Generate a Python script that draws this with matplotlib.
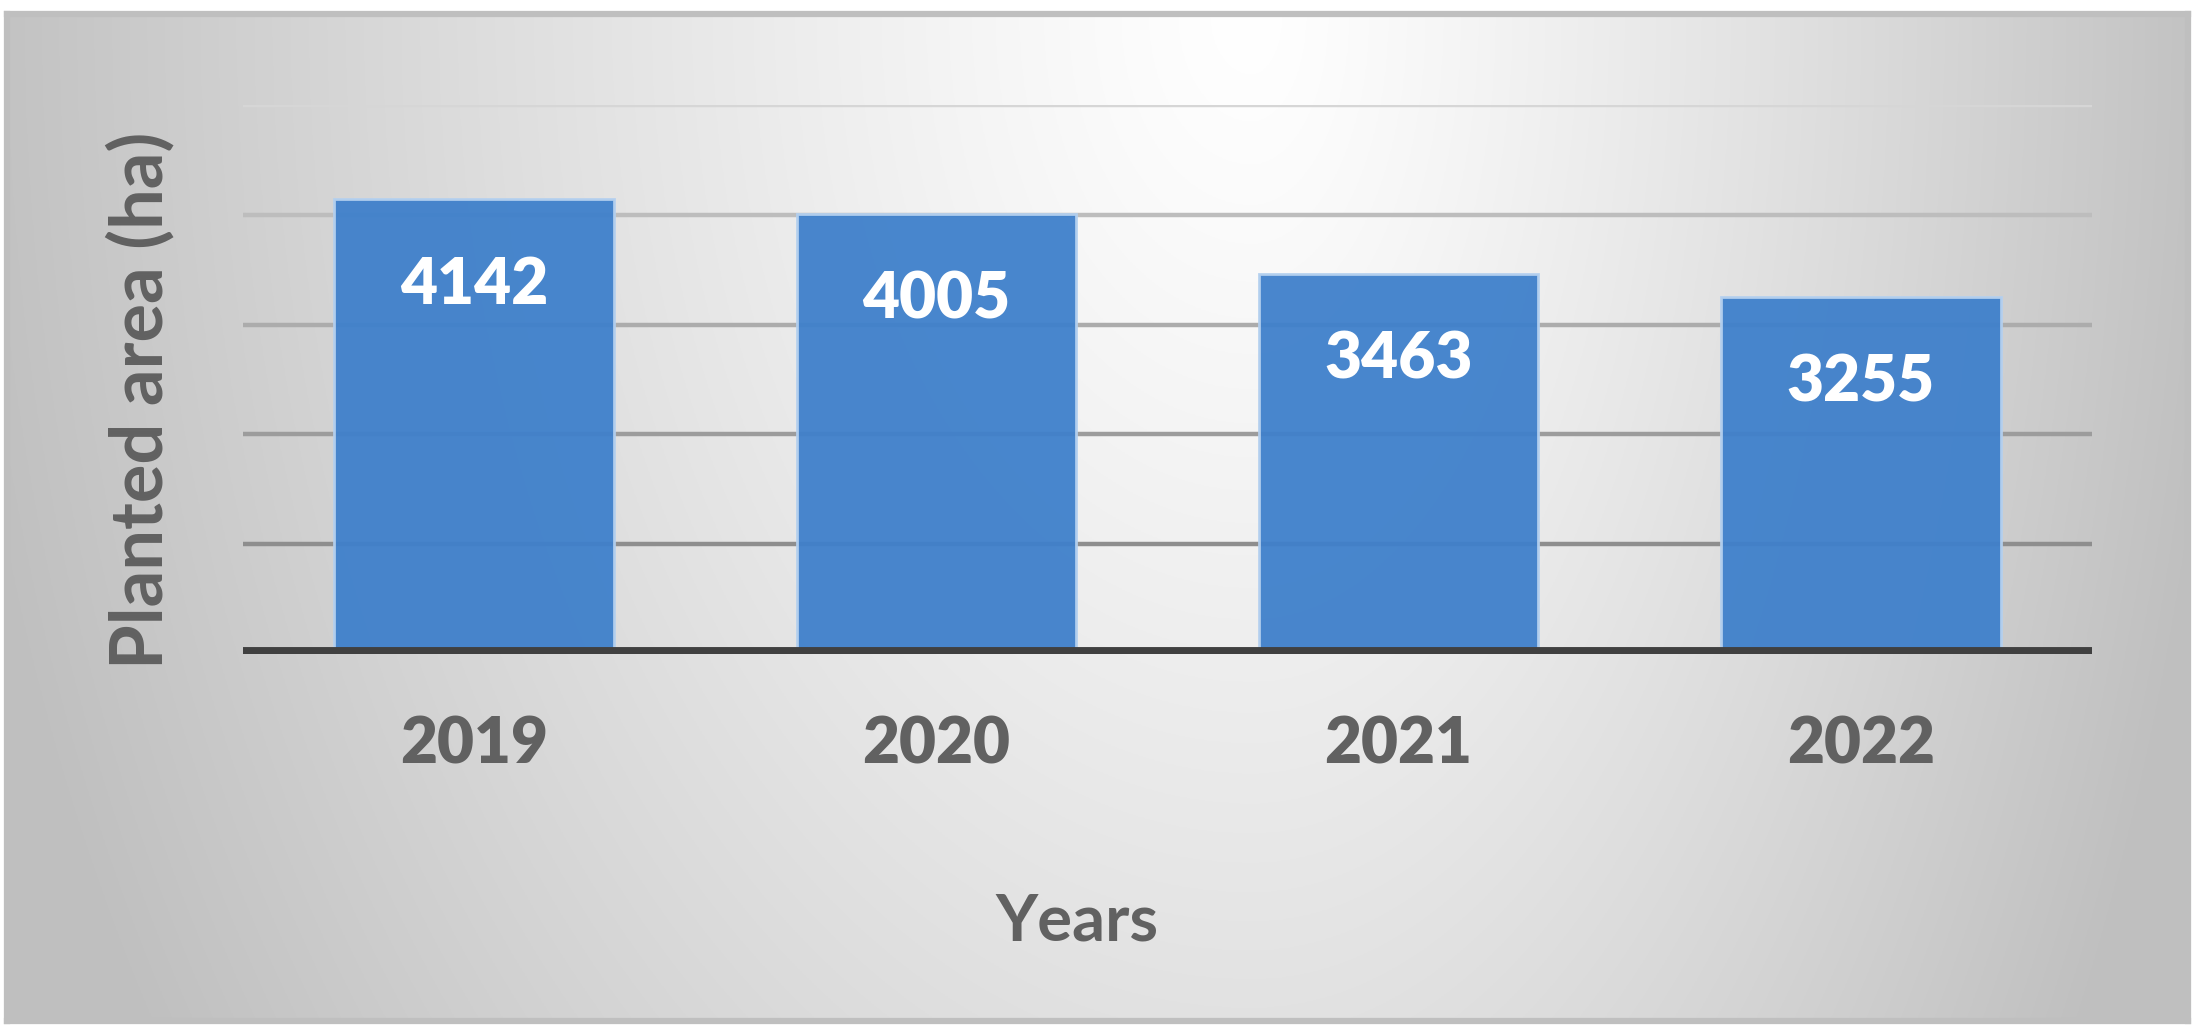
import numpy as np
import matplotlib.pyplot as plt

years = ['2019', '2020', '2021', '2022']
area = [4142, 4005, 3463, 3255]
grid_vals = [1000, 2000, 3000, 4000, 5000]
grid_cols = ['#8e8e8e', '#9c9c9c', '#acacac', '#bdbdbd', '#d6d6d6']

plt.rcParams['font.family'] = ['Lato', 'DejaVu Sans']
text_col = '#616161'

fig = plt.figure(figsize=(22.02, 10.35), dpi=100)
fig.patch.set_facecolor('white')

# panel with radial gradient background
bg = fig.add_axes([0.0032, 0.0135, 0.9904, 0.973])
h, w = 400, 800
yy, xx = np.mgrid[0:h, 0:w]
fx = xx / w - 0.57
dx = np.where(fx < 0, fx / 0.60, fx / 0.45)
dy = (yy / h) / 1.9
d = np.clip(np.sqrt(dx ** 2 + dy ** 2), 0, 1)
shade = 1 - 0.25 * d ** 1.2
bg.imshow(np.dstack([shade] * 3), aspect='auto', extent=[0, 1, 0, 1], origin='upper')
bg.set_xticks([])
bg.set_yticks([])
for s in bg.spines.values():
    s.set_color('#bfbfbf')
    s.set_linewidth(4.5)

ax = fig.add_axes([0.1104, 0.368, 0.8396, 0.5306])
ax.patch.set_alpha(0)
ax.set_xlim(-0.5, 3.5)
ax.set_ylim(0, 5000)

for v, c in zip(grid_vals, grid_cols):
    ax.axhline(v, color=c, lw=3.2, zorder=1)

x = np.arange(len(years))
bars = ax.bar(x, area, width=0.605, color='#3f80cb', alpha=0.95,
              edgecolor='#b4d0ef', linewidth=2, zorder=2)
ax.axhline(0, color='#404040', lw=10, zorder=3)

for b, v in zip(bars, area):
    ax.annotate(str(v), (b.get_x() + b.get_width() / 2, v), xytext=(0, -62),
                textcoords='offset points', ha='center', va='center',
                color='white', fontsize=46, fontweight='heavy', zorder=4)

ax.set_xticks(x)
ax.set_xticklabels(years, fontsize=46, fontweight='heavy', color=text_col)
ax.tick_params(axis='x', length=0, pad=44)
ax.set_yticks([])
for s in ax.spines.values():
    s.set_visible(False)

fig.text(0.489, 0.109, 'Years', ha='center', va='center', fontsize=47,
         fontweight='bold', color=text_col)
fig.text(0.064, 0.613, 'Planted area (ha)', ha='center', va='center',
         rotation=90, fontsize=52, fontweight='bold', color=text_col)

fig.savefig('out.png', dpi=100)
